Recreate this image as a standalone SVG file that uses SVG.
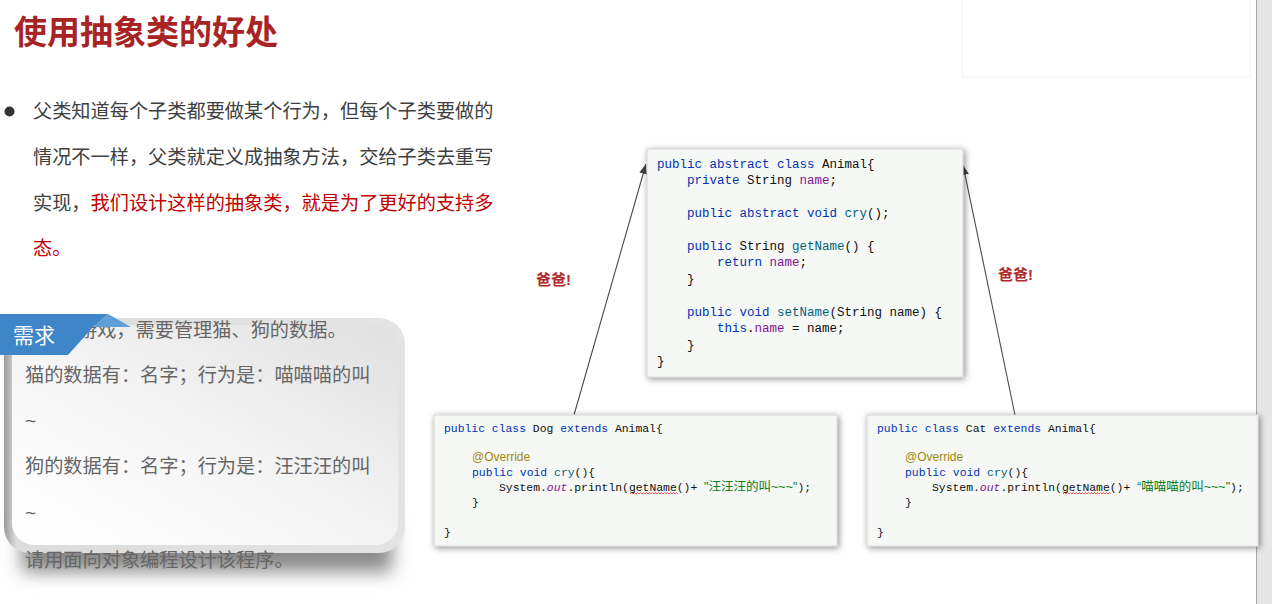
<svg xmlns="http://www.w3.org/2000/svg" width="1272" height="604" viewBox="0 0 1272 604">
<defs>
<style>
.cn{font-family:"Liberation Sans","Noto Sans CJK SC",sans-serif;}
.code{font-family:"Liberation Mono",monospace;fill:#101010;}
.a{font-size:12.5px;}
.s{font-size:11.4px;}
.k{fill:#0033b3;}
.f{fill:#871094;}
.m{fill:#00627a;}
.o{fill:#871094;font-style:italic;}
.ann{font-family:"Liberation Sans",sans-serif;font-size:12px;fill:#9e880d;}
.str{font-family:"Liberation Sans","Noto Sans CJK SC",sans-serif;font-size:12.5px;fill:#067d17;}
.box{fill:#f6f8f5;stroke:#d6d6d6;stroke-width:1;}
.body{font-size:19.2px;fill:#404040;}
.red{fill:#c00000;}
.req{font-size:19.2px;fill:#666666;}
.dad{font-family:"Liberation Sans","Noto Sans CJK SC",sans-serif;font-size:15px;font-weight:bold;fill:#b02a2a;}
.wave{fill:none;stroke:#e03030;stroke-width:0.8;}
.conn{stroke:#4a4a4a;stroke-width:1.1;fill:none;marker-end:url(#arr);}
</style>
<marker id="arr" viewBox="0 0 10 8" refX="10" refY="4" markerWidth="10" markerHeight="8" markerUnits="userSpaceOnUse" orient="auto">
<path d="M0,0 L10,4 L0,8 Z" fill="#404040"/>
</marker>
<filter id="sh" x="-10%" y="-10%" width="120%" height="125%">
<feDropShadow dx="1.5" dy="1.5" stdDeviation="3" flood-color="#000" flood-opacity="0.45"/>
</filter>
<filter id="blur" x="-20%" y="-50%" width="140%" height="200%">
<feGaussianBlur stdDeviation="9"/>
</filter>
<linearGradient id="outer" x1="0" y1="0" x2="1" y2="0">
<stop offset="0" stop-color="#9a9a9a"/>
<stop offset="0.03" stop-color="#dcdcdc"/>
<stop offset="1" stop-color="#e4e4e4"/>
</linearGradient>
<linearGradient id="inner" x1="0" y1="1" x2="1" y2="0">
<stop offset="0" stop-color="#ffffff"/>
<stop offset="0.45" stop-color="#f6f6f6"/>
<stop offset="1" stop-color="#e0e0e0"/>
</linearGradient>
</defs>
<rect width="1272" height="604" fill="#ffffff"/>
<rect x="962.5" y="-1" width="288" height="78" fill="none" stroke="#f3f3f3"/>
<rect x="1256" y="0" width="16" height="604" fill="#e6e6e6"/>
<line x1="1256.5" y1="0" x2="1256.5" y2="604" stroke="#a8a8a8"/>

<g id="title">
<text x="14" y="44" class="cn" font-size="33" font-weight="bold" fill="#a82424">使用抽象类的好处</text>
</g>

<g id="bullet">
<circle cx="9.5" cy="111.5" r="5" fill="#333333"/>
<text x="33" y="118" class="cn body">父类知道每个子类都要做某个行为，但每个子类要做的</text>
<text x="33" y="164" class="cn body">情况不一样，父类就定义成抽象方法，交给子类去重写</text>
<text x="33" y="210" class="cn body">实现，<tspan class="red">我们设计这样的抽象类，就是为了更好的支持多</tspan></text>
<text x="33" y="255" class="cn body red">态。</text>
</g>

<g id="requirement">
<rect x="22" y="520" width="370" height="52" fill="#8a8a8a" filter="url(#blur)"/>
<rect x="4" y="318" width="401" height="235" rx="26" fill="url(#outer)"/>
<rect x="12" y="325" width="386" height="220" rx="22" fill="url(#inner)"/>
<text x="78" y="337" class="cn req">游戏，需要管理猫、狗的数据。</text>
<text x="25" y="382" class="cn req">猫的数据有：名字；行为是：喵喵喵的叫</text>
<text x="25" y="427" class="cn req">~</text>
<text x="25" y="473" class="cn req">狗的数据有：名字；行为是：汪汪汪的叫</text>
<text x="25" y="519" class="cn req">~</text>
<text x="25" y="567" class="cn req">请用面向对象编程设计该程序。</text>
<polygon points="0,314 108,314 93,327 68,355 0,355" fill="#3f86c8"/>
<polygon points="108,314 131,327 93,327" fill="#5e9fd8"/>
<text x="13" y="343" class="cn" font-size="21" fill="#ffffff">需求</text>
</g>

<g id="connectors">
<line class="conn" x1="574" y1="415" x2="646" y2="164"/>
<line class="conn" x1="1015" y1="415" x2="963" y2="165"/>
</g>

<g id="label-left">
<text x="536" y="285" class="dad">爸爸!</text>
</g>
<g id="label-right">
<text x="998" y="280" class="dad">爸爸!</text>
</g>

<g id="animal">
<rect x="647" y="149" width="316" height="228" class="box" filter="url(#sh)"/>
<text x="657" y="167.5" class="code a"><tspan class="k">public abstract class</tspan> Animal{</text>
<text x="687" y="184" class="code a"><tspan class="k">private</tspan> String <tspan class="f">name</tspan>;</text>
<text x="687" y="216.5" class="code a"><tspan class="k">public abstract void</tspan> <tspan class="m">cry</tspan>();</text>
<text x="687" y="249.5" class="code a"><tspan class="k">public</tspan> String <tspan class="m">getName</tspan>() {</text>
<text x="717" y="266" class="code a"><tspan class="k">return</tspan> <tspan class="f">name</tspan>;</text>
<text x="687" y="282.5" class="code a">}</text>
<text x="687" y="315.5" class="code a"><tspan class="k">public void</tspan> <tspan class="m">setName</tspan>(String name) {</text>
<text x="717" y="332" class="code a"><tspan class="k">this</tspan>.<tspan class="f">name</tspan> = name;</text>
<text x="687" y="348.5" class="code a">}</text>
<text x="657" y="365" class="code a">}</text>
</g>

<g id="dog">
<rect x="434" y="415" width="403" height="131" class="box" filter="url(#sh)"/>
<text x="444" y="432" class="code s"><tspan class="k">public class</tspan> Dog <tspan class="k">extends</tspan> Animal{</text>
<text x="472" y="461" class="ann">@Override</text>
<text x="472" y="476" class="code s"><tspan class="k">public void</tspan> <tspan class="m">cry</tspan>(){</text>
<text x="499" y="491" class="code s">System.<tspan class="o">out</tspan>.println(getName()+ <tspan class="str">"汪汪汪的叫~~~"</tspan>);</text>
<path class="wave" d="M630,494 l1.5,-1.5 l1.5,1.5 l1.5,-1.5 l1.5,1.5 l1.5,-1.5 l1.5,1.5 l1.5,-1.5 l1.5,1.5 l1.5,-1.5 l1.5,1.5 l1.5,-1.5 l1.5,1.5 l1.5,-1.5 l1.5,1.5 l1.5,-1.5 l1.5,1.5 l1.5,-1.5 l1.5,1.5 l1.5,-1.5 l1.5,1.5 l1.5,-1.5 l1.5,1.5 l1.5,-1.5 l1.5,1.5 l1.5,-1.5 l1.5,1.5 l1.5,-1.5 l1.5,1.5 l1.5,-1.5 l1.5,1.5 l1.5,-1.5 l1.5,1.5"/>
<text x="472" y="506" class="code s">}</text>
<text x="444" y="536" class="code s">}</text>
</g>

<g id="cat">
<rect x="867" y="415" width="391" height="131" class="box" filter="url(#sh)"/>
<text x="877" y="432" class="code s"><tspan class="k">public class</tspan> Cat <tspan class="k">extends</tspan> Animal{</text>
<text x="905" y="461" class="ann">@Override</text>
<text x="905" y="476" class="code s"><tspan class="k">public void</tspan> <tspan class="m">cry</tspan>(){</text>
<text x="932" y="491" class="code s">System.<tspan class="o">out</tspan>.println(getName()+ <tspan class="str">“喵喵喵的叫~~~"</tspan>);</text>
<path class="wave" d="M1063,494 l1.5,-1.5 l1.5,1.5 l1.5,-1.5 l1.5,1.5 l1.5,-1.5 l1.5,1.5 l1.5,-1.5 l1.5,1.5 l1.5,-1.5 l1.5,1.5 l1.5,-1.5 l1.5,1.5 l1.5,-1.5 l1.5,1.5 l1.5,-1.5 l1.5,1.5 l1.5,-1.5 l1.5,1.5 l1.5,-1.5 l1.5,1.5 l1.5,-1.5 l1.5,1.5 l1.5,-1.5 l1.5,1.5 l1.5,-1.5 l1.5,1.5 l1.5,-1.5 l1.5,1.5 l1.5,-1.5 l1.5,1.5 l1.5,-1.5 l1.5,1.5"/>
<text x="905" y="506" class="code s">}</text>
<text x="877" y="536" class="code s">}</text>
</g>
</svg>
